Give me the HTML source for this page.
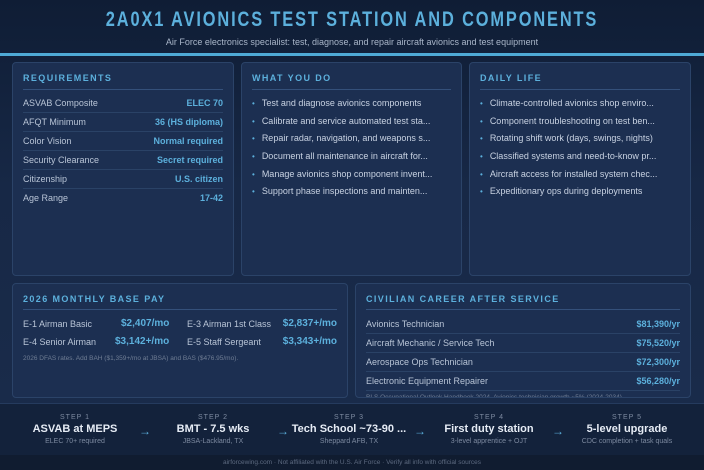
<!DOCTYPE html>
<html><head><style>
*{margin:0;padding:0;box-sizing:border-box}
body{width:704px;height:470px;overflow:hidden;font-family:"Liberation Sans",sans-serif;background:linear-gradient(180deg,#0f1d35 0%,#172846 40%,#1a2c4b 100%);position:relative;color:#c8d3e3}
.a{position:absolute;white-space:nowrap}
h1{position:absolute;left:0;width:704px;top:8px;text-align:center;font-size:21px;letter-spacing:2.4px;color:#5cb0dc;font-weight:bold;transform:scaleX(0.78);transform-origin:352px 0}
.sub{left:0;width:704px;text-align:center;top:37px;font-size:9px;color:#a9b6c9}
.bar{left:0;top:53px;width:704px;height:3px;background:#4ea9d6}
.p{position:absolute;background:#1c2f51;border:1px solid #2b4368;border-radius:4px;overflow:hidden}
.h{position:absolute;left:10px;top:10px;font-size:9px;font-weight:bold;letter-spacing:1.4px;color:#5cb0dc}
.r{position:absolute;left:10px;right:10px;height:1px;background:#34507a}
.row{position:absolute;left:10px;right:10px;font-size:9px;color:#b8c4d6;height:19px;line-height:19px;border-bottom:1px solid #2a4266}
.row b{position:absolute;right:0;top:0;color:#5cb0dc}
.li{position:absolute;left:10px;font-size:9px;color:#c8d2e2;white-space:nowrap}
.li:before{content:"•";color:#5cb0dc;margin-right:7px;font-size:8px}
.steps{left:0;top:403px;width:704px;height:52px;background:#13223b;border-top:1px solid #253b5e}
.st{position:absolute;width:130px;text-align:center}
.st .s1{font-size:7px;letter-spacing:1px;color:#7d8aa0}
.st .s2{font-size:11px;font-weight:bold;color:#e6ecf5;margin-top:2px}
.st .s3{font-size:7px;color:#7d8aa0;margin-top:3px}
.ar{position:absolute;top:424px;color:#5cb0dc;font-size:12px}
.ft{left:0;top:455px;width:704px;height:15px;background:#101c30;text-align:center;font-size:6.5px;color:#5d6a80;line-height:15px}
</style></head><body>
<h1>2A0X1 AVIONICS TEST STATION AND COMPONENTS</h1>
<div class="a sub">Air Force electronics specialist: test, diagnose, and repair aircraft avionics and test equipment</div>
<div class="a bar"></div>

<div class="p" style="left:12px;top:62px;width:222px;height:214px">
<div class="h">REQUIREMENTS</div><div class="r" style="top:26px"></div>
<div class="row" style="top:31px">ASVAB Composite<b>ELEC 70</b></div>
<div class="row" style="top:50px">AFQT Minimum<b>36 (HS diploma)</b></div>
<div class="row" style="top:69px">Color Vision<b>Normal required</b></div>
<div class="row" style="top:88px">Security Clearance<b>Secret required</b></div>
<div class="row" style="top:107px">Citizenship<b>U.S. citizen</b></div>
<div class="row" style="top:126px;border:none">Age Range<b>17-42</b></div>
</div>

<div class="p" style="left:241px;top:62px;width:221px;height:214px">
<div class="h">WHAT YOU DO</div><div class="r" style="top:26px"></div>
<div class="li" style="top:35px">Test and diagnose avionics components</div>
<div class="li" style="top:53px">Calibrate and service automated test sta...</div>
<div class="li" style="top:70px">Repair radar, navigation, and weapons s...</div>
<div class="li" style="top:88px">Document all maintenance in aircraft for...</div>
<div class="li" style="top:106px">Manage avionics shop component invent...</div>
<div class="li" style="top:123px">Support phase inspections and mainten...</div>
</div>

<div class="p" style="left:469px;top:62px;width:222px;height:214px">
<div class="h">DAILY LIFE</div><div class="r" style="top:26px"></div>
<div class="li" style="top:35px">Climate-controlled avionics shop enviro...</div>
<div class="li" style="top:53px">Component troubleshooting on test ben...</div>
<div class="li" style="top:70px">Rotating shift work (days, swings, nights)</div>
<div class="li" style="top:88px">Classified systems and need-to-know pr...</div>
<div class="li" style="top:106px">Aircraft access for installed system chec...</div>
<div class="li" style="top:123px">Expeditionary ops during deployments</div>
</div>

<div class="p" style="left:12px;top:283px;width:336px;height:115px">
<div class="h">2026 MONTHLY BASE PAY</div><div class="r" style="top:25px"></div>
<div class="a" style="left:10px;top:35px;font-size:9px;color:#b8c4d6">E-1 Airman Basic</div>
<div class="a" style="left:108px;top:34px;font-size:10px;font-weight:bold;color:#5cb0dc">$2,407/mo</div>
<div class="a" style="left:174px;top:35px;font-size:9px;color:#b8c4d6">E-3 Airman 1st Class</div>
<div class="a" style="right:10px;top:34px;font-size:10px;font-weight:bold;color:#5cb0dc">$2,837+/mo</div>
<div class="a" style="left:10px;top:53px;font-size:9px;color:#b8c4d6">E-4 Senior Airman</div>
<div class="a" style="left:102px;top:52px;font-size:10px;font-weight:bold;color:#5cb0dc">$3,142+/mo</div>
<div class="a" style="left:174px;top:53px;font-size:9px;color:#b8c4d6">E-5 Staff Sergeant</div>
<div class="a" style="right:10px;top:52px;font-size:10px;font-weight:bold;color:#5cb0dc">$3,343+/mo</div>
<div class="a" style="left:10px;top:71px;font-size:6.5px;color:#6f7d94">2026 DFAS rates. Add BAH ($1,359+/mo at JBSA) and BAS ($476.95/mo).</div>
</div>

<div class="p" style="left:355px;top:283px;width:336px;height:115px">
<div class="h">CIVILIAN CAREER AFTER SERVICE</div><div class="r" style="top:25px"></div>
<div class="row" style="top:31px">Avionics Technician<b>$81,390/yr</b></div>
<div class="row" style="top:50px">Aircraft Mechanic / Service Tech<b>$75,520/yr</b></div>
<div class="row" style="top:69px">Aerospace Ops Technician<b>$72,300/yr</b></div>
<div class="row" style="top:88px">Electronic Equipment Repairer<b>$56,280/yr</b></div>
<div class="a" style="left:10px;top:110px;font-size:6.5px;color:#6f7d94">BLS Occupational Outlook Handbook 2024. Avionics technician growth ~5% (2024-2034)</div>
</div>

<div class="a steps"></div>
<div class="st" style="left:10px;top:414px"><div class="s1">STEP 1</div><div class="s2">ASVAB at MEPS</div><div class="s3">ELEC 70+ required</div></div>
<div class="st" style="left:148px;top:414px"><div class="s1">STEP 2</div><div class="s2">BMT - 7.5 wks</div><div class="s3">JBSA-Lackland, TX</div></div>
<div class="st" style="left:284px;top:414px"><div class="s1">STEP 3</div><div class="s2">Tech School ~73-90 ...</div><div class="s3">Sheppard AFB, TX</div></div>
<div class="st" style="left:424px;top:414px"><div class="s1">STEP 4</div><div class="s2">First duty station</div><div class="s3">3-level apprentice + OJT</div></div>
<div class="st" style="left:562px;top:414px"><div class="s1">STEP 5</div><div class="s2">5-level upgrade</div><div class="s3">CDC completion + task quals</div></div>
<div class="ar" style="left:139px">→</div>
<div class="ar" style="left:277px">→</div>
<div class="ar" style="left:414px">→</div>
<div class="ar" style="left:552px">→</div>
<div class="a ft">airforcewing.com · Not affiliated with the U.S. Air Force · Verify all info with official sources</div>
</body></html>
